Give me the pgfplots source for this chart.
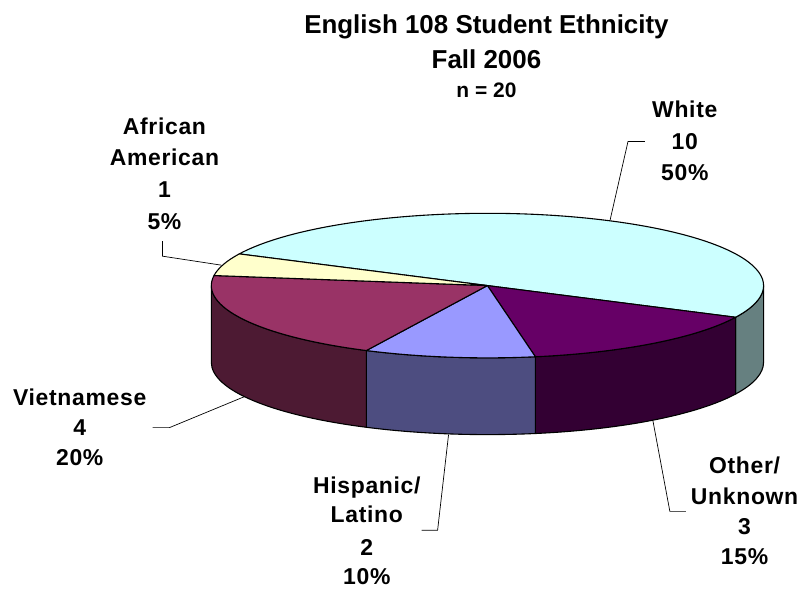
\documentclass[border=0pt]{standalone}
\usepackage{fontspec}
\setmainfont{Liberation Sans}
\newfontfamily\labfamily{Liberation Sans}[LetterSpace=3]
\usepackage{pgfplots}
\pgfplotsset{compat=1.18}
\usepackage{pgfplotstable}

\definecolor{cWtop}{HTML}{CCFFFF}
\definecolor{cWside}{HTML}{668080}
\definecolor{cOtop}{HTML}{660066}
\definecolor{cOside}{HTML}{330033}
\definecolor{cHtop}{HTML}{9999FF}
\definecolor{cHside}{HTML}{4D4D80}
\definecolor{cVtop}{HTML}{993366}
\definecolor{cVside}{HTML}{4D1A33}
\definecolor{cAtop}{HTML}{FFFFCC}

% counts, clockwise from the White slice
\pgfplotstableread{
label value
White 10
Other 3
Hispanic 2
Vietnamese 4
African 1
}\piedata

\pgfplotstablegetelem{0}{value}\of\piedata \pgfmathsetmacro\vW{\pgfplotsretval}
\pgfplotstablegetelem{1}{value}\of\piedata \pgfmathsetmacro\vO{\pgfplotsretval}
\pgfplotstablegetelem{2}{value}\of\piedata \pgfmathsetmacro\vH{\pgfplotsretval}
\pgfplotstablegetelem{3}{value}\of\piedata \pgfmathsetmacro\vV{\pgfplotsretval}
\pgfplotstablegetelem{4}{value}\of\piedata \pgfmathsetmacro\vA{\pgfplotsretval}
\pgfmathsetmacro\tot{\vW+\vO+\vH+\vV+\vA}
\pgfmathsetmacro\aW{154}
\pgfmathsetmacro\aO{\aW-360*\vW/\tot}
\pgfmathsetmacro\aH{\aO-360*\vO/\tot}
\pgfmathsetmacro\aV{\aH-360*\vH/\tot}
\pgfmathsetmacro\aA{\aV-360*\vV/\tot}
\pgfmathsetmacro\aE{\aA-360*\vA/\tot}

\def\cx{489}
\def\cy{303.5}
\def\rx{277}
\def\ry{72.5}
\def\dep{77}

\tikzset{pieedge/.style={draw=black,line width=1.1pt,line join=round}}

\newcommand\topslice[3]{%
  \fill[#3,pieedge] (axis cs:\cx,\cy) -- (axis cs:{\cx+\rx*cos(#1)},{\cy+\ry*sin(#1)})
    arc[start angle=#1,end angle=#2,x radius=\rx pt,y radius=\ry pt] -- cycle;}
\newcommand\sideslice[3]{%
  \fill[#3,pieedge] (axis cs:{\cx+\rx*cos(#1)},{\cy+\ry*sin(#1)})
    arc[start angle=#1,end angle=#2,x radius=\rx pt,y radius=\ry pt]
    -- ++(0pt,-\dep pt)
    arc[start angle=#2,end angle=#1,x radius=\rx pt,y radius=\ry pt] -- cycle;}

\newcommand\labfont{\labfamily\fontsize{23}{28}\selectfont\bfseries}
\newcommand\titfont{\fontsize{26}{30}\selectfont\bfseries}

\begin{document}
\begin{tikzpicture}
\begin{axis}[
  x=1pt, y=1pt,
  xmin=0, xmax=803, ymin=0, ymax=590,
  hide axis, clip=false,
]
\path[draw=none] (rel axis cs:0,0) rectangle (rel axis cs:1,1);

% side walls
\sideslice{0}{\aO}{cWside}
\sideslice{\aO}{\aH}{cOside}
\sideslice{\aH}{\aV}{cHside}
\sideslice{\aV}{-180}{cVside}

% top faces
\topslice{\aW}{\aO}{cWtop}
\topslice{\aO}{\aH}{cOtop}
\topslice{\aH}{\aV}{cHtop}
\topslice{\aV}{\aA}{cVtop}
\topslice{\aA}{\aE}{cAtop}

% leader lines
\draw[black,line width=0.7pt] (axis cs:612,369) -- (axis cs:630,448) -- (axis cs:647,448);
\draw[black,line width=0.7pt] (axis cs:222,324) -- (axis cs:163,333) -- (axis cs:163,348);
\draw[black,line width=0.7pt] (axis cs:245,192) -- (axis cs:170,161) -- (axis cs:153,161);
\draw[black,line width=0.7pt] (axis cs:450,154) -- (axis cs:439,58) -- (axis cs:423,58);
\draw[black,line width=0.7pt] (axis cs:655,168) -- (axis cs:672,77) -- (axis cs:688,77);

% title
\node[anchor=base,inner sep=0pt,font=\titfont] at (axis cs:488,556.5) {English 108 Student Ethnicity};
\node[anchor=base,inner sep=0pt,font=\titfont] at (axis cs:488,521.5) {Fall 2006};
\node[anchor=base,inner sep=0pt,font=\fontsize{21}{24}\selectfont\bfseries] at (axis cs:488,492.5) {n = 20};

% data labels
\node[anchor=base,inner sep=0pt,font=\labfont] at (axis cs:687,471.8) {White};
\node[anchor=base,inner sep=0pt,font=\labfont] at (axis cs:687,439.8) {10};
\node[anchor=base,inner sep=0pt,font=\labfont] at (axis cs:687,408.8) {50\%};

\node[anchor=base,inner sep=0pt,font=\labfont] at (axis cs:165,454.8) {African};
\node[anchor=base,inner sep=0pt,font=\labfont] at (axis cs:165,423.8) {American};
\node[anchor=base,inner sep=0pt,font=\labfont] at (axis cs:165,391.8) {1};
\node[anchor=base,inner sep=0pt,font=\labfont] at (axis cs:165,359.8) {5\%};

\node[anchor=base,inner sep=0pt,font=\labfont] at (axis cs:80,183.5) {Vietnamese};
\node[anchor=base,inner sep=0pt,font=\labfont] at (axis cs:80,153) {4};
\node[anchor=base,inner sep=0pt,font=\labfont] at (axis cs:80,123) {20\%};

\node[anchor=base,inner sep=0pt,font=\labfont] at (axis cs:368,94.8) {Hispanic/};
\node[anchor=base,inner sep=0pt,font=\labfont] at (axis cs:368,65.8) {Latino};
\node[anchor=base,inner sep=0pt,font=\labfont] at (axis cs:368,32.8) {2};
\node[anchor=base,inner sep=0pt,font=\labfont] at (axis cs:368,3.5) {10\%};

\node[anchor=base,inner sep=0pt,font=\labfont] at (axis cs:747,114.8) {Other/};
\node[anchor=base,inner sep=0pt,font=\labfont] at (axis cs:747,83.8) {Unknown};
\node[anchor=base,inner sep=0pt,font=\labfont] at (axis cs:747,53.8) {3};
\node[anchor=base,inner sep=0pt,font=\labfont] at (axis cs:747,23.8) {15\%};
\end{axis}
\end{tikzpicture}
\end{document}
